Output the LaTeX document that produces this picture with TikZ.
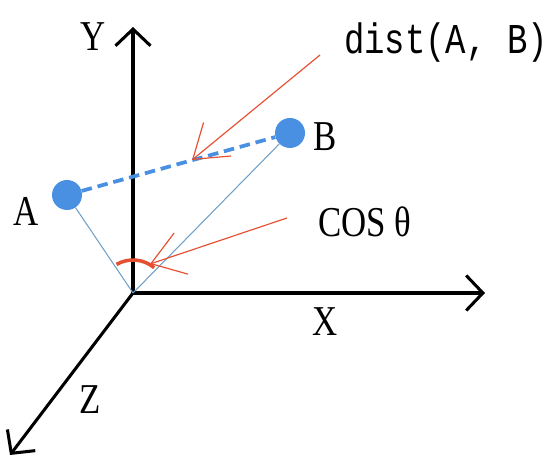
\documentclass[tikz,border=0pt]{standalone}
\usepackage{fontspec}
\setmainfont{Liberation Serif}
\setmonofont{Liberation Mono}
\usepackage{xcolor}
\usepackage{graphicx}
\usepackage{tikz}
\usetikzlibrary{arrows.meta, positioning, calc}

\definecolor{ptblue}{RGB}{74,144,226}
\definecolor{linkblue}{RGB}{110,160,200}
\definecolor{markred}{RGB}{230,80,50}

\begin{document}
\begin{tikzpicture}[
      x=0.03cm, y=-0.03cm,
      axis/.style={line width=2.6pt, black,
        -{Straight Barb[length=0.5cm, width=1.05cm, line width=2.6pt]}},
      pt/.style={circle, fill=ptblue, inner sep=0pt, minimum size=0.9cm},
      proj/.style={linkblue, line width=0.9pt},
      gap/.style={ptblue, line width=3.2pt, dash pattern=on 9pt off 5pt},
      note/.style={markred, line width=1pt,
        -{Straight Barb[length=0.95cm, width=1.3cm, line width=1pt]}},
      lbl/.style={inner sep=0pt, font=\fontsize{33}{38}\selectfont}
    ]
    \useasboundingbox (0,0) rectangle (553,461);

    % --- Axes ---
    \coordinate (O) at (133,293);
    \coordinate (yend) at (133,27);
    \coordinate (xend) at (485,293);
    \coordinate (zend) at (10,455);
    \draw[axis] (O) -- (yend);
    \draw[axis] (O) -- (xend);
    \draw[axis] (O) -- (zend);
    \node[lbl] (ylab) at (93,37)  {\scalebox{0.9}[1.1]{Y}};
    \node[lbl] (xlab) at (325,322) {\scalebox{0.9}[1.1]{X}};
    \node[lbl] (zlab) at (90,400) {\scalebox{0.9}[1.1]{Z}};

    % --- Points ---
    \node[pt] (A) at (67,195) {};
    \node[pt] (B) at (290,133) {};
    \node[lbl, left=0.4cm of A, yshift=-0.5cm] (alab) {\scalebox{0.9}[1.1]{A}};
    \node[lbl, right=0.25cm of B, yshift=-0.1cm] (blab) {\scalebox{0.9}[1.1]{B}};
    \draw[proj] (A) -- (O);
    \draw[proj] (B) -- (O);
    \draw[gap] (A) -- (B);

    % --- Angle ---
    \draw[markred, line width=3pt] ($(O)+(-120:33)$) arc[start angle=-120, end angle=-50, radius=33];

    % --- Notes ---
    \node[lbl, font=\ttfamily\fontsize{29}{34}\selectfont] (dlab) at (446,43) {\scalebox{1}[1.25]{dist(A, B)}};
    \node[lbl] (clab) at (365,222) {\scalebox{0.9}[1.1]{COS θ}};
    \coordinate (dfrom) at (320,55);
    \coordinate (dto) at (192,160);
    \coordinate (cfrom) at (287,218);
    \coordinate (cto) at (150,264);
    \draw[note] (dfrom) -- (dto);
    \draw[note] (cfrom) -- (cto);
  \end{tikzpicture}
\end{document}
